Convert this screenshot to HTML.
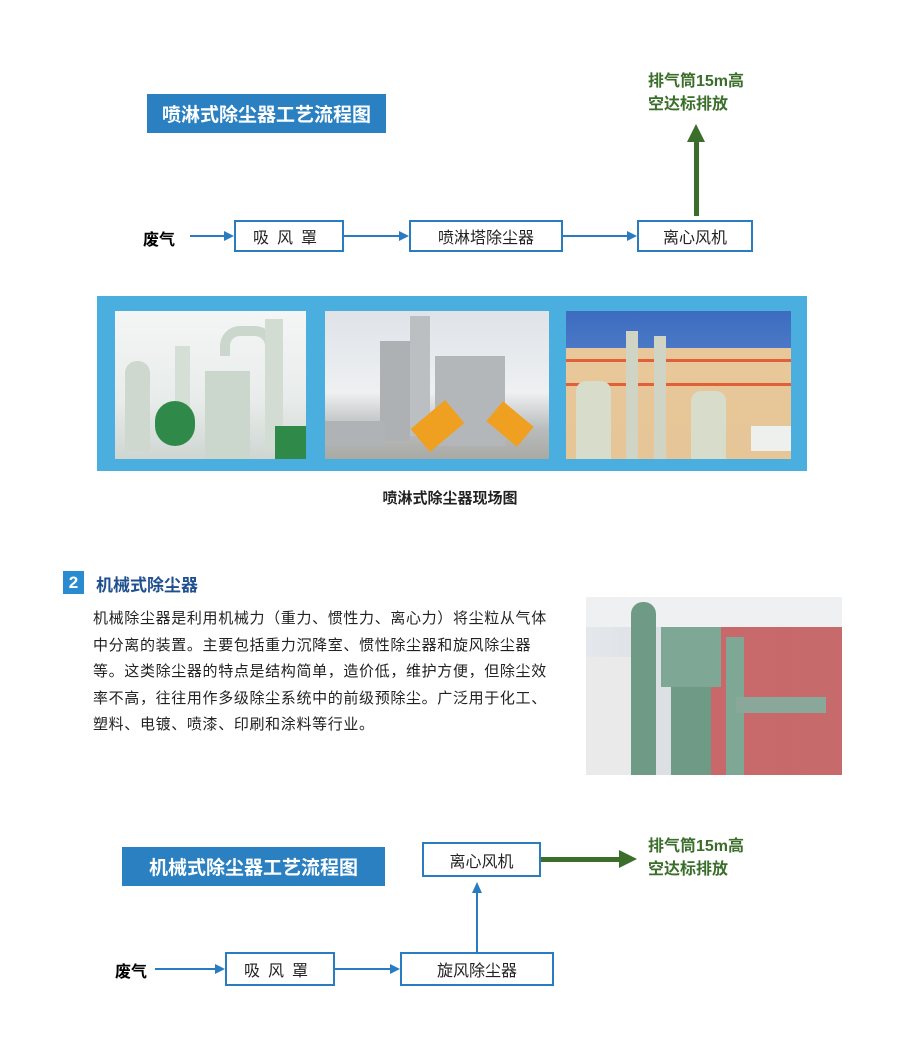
<!DOCTYPE html>
<html><head><meta charset="utf-8"><style>
body{margin:0;width:900px;height:1052px;background:#fff;position:relative;overflow:hidden;font-family:"Liberation Sans","Noto Sans CJK SC",sans-serif;}
.a{position:absolute;}
.tb{background:#2a80c0;color:#fff;font-weight:bold;font-size:19px;display:flex;align-items:center;justify-content:center;}
.bx{border:2px solid #2a7cc0;background:#fff;color:#222;font-size:16px;display:flex;align-items:center;justify-content:center;box-sizing:border-box;}
.ln{background:#2a7cc0;height:2px;}
.g{color:#3a6e2a;font-weight:bold;font-size:16px;line-height:23px;}
.p{font-size:15px;color:#222;line-height:26.6px;letter-spacing:0.65px;white-space:nowrap;}
</style></head><body>
<div class="a tb" style="left:147px;top:94px;width:239px;height:39px;">喷淋式除尘器工艺流程图</div>
<div class="a g" style="left:648px;top:70px;">排气筒15m高<br>空达标排放</div>
<div class="a" style="left:694px;top:140px;width:5px;height:76px;background:#3a6e2a;"></div>
<div class="a" style="left:687px;top:124px;width:0;height:0;border-left:9.5px solid transparent;border-right:9.5px solid transparent;border-bottom:18px solid #3a6e2a;"></div>
<div class="a" style="left:143px;top:226px;font-weight:bold;font-size:16px;">废气</div>
<div class="a ln" style="left:190px;top:235px;width:36px;"></div>
<div class="a" style="left:224px;top:231px;border-left:10px solid #2a7cc0;border-top:5px solid transparent;border-bottom:5px solid transparent;"></div>
<div class="a bx" style="left:234px;top:220px;width:110px;height:32px;letter-spacing:8px;">吸风罩</div>
<div class="a ln" style="left:344px;top:235px;width:56px;"></div>
<div class="a" style="left:399px;top:231px;border-left:10px solid #2a7cc0;border-top:5px solid transparent;border-bottom:5px solid transparent;"></div>
<div class="a bx" style="left:409px;top:220px;width:154px;height:32px;">喷淋塔除尘器</div>
<div class="a ln" style="left:563px;top:235px;width:65px;"></div>
<div class="a" style="left:627px;top:231px;border-left:10px solid #2a7cc0;border-top:5px solid transparent;border-bottom:5px solid transparent;"></div>
<div class="a bx" style="left:637px;top:220px;width:116px;height:32px;">离心风机</div>

<div class="a" style="left:97px;top:296px;width:710px;height:175px;background:#4aaede;"></div>
<div class="a" style="left:115px;top:311px;width:191px;height:148px;background:linear-gradient(#f4f6f6 0%,#e8ecea 60%,#cfd6d2 100%);overflow:hidden;">
 <div class="a" style="left:10px;top:50px;width:25px;height:90px;background:#cfd8cf;border-radius:12px 12px 0 0;"></div>
 <div class="a" style="left:60px;top:35px;width:15px;height:90px;background:#d6dfd6;"></div>
 <div class="a" style="left:40px;top:90px;width:40px;height:45px;background:#2f8a4a;border-radius:20px;"></div>
 <div class="a" style="left:90px;top:60px;width:45px;height:90px;background:#cbd6cc;"></div>
 <div class="a" style="left:105px;top:15px;width:35px;height:20px;border:10px solid #cbd6cc;border-bottom:none;border-radius:20px 20px 0 0;"></div>
 <div class="a" style="left:150px;top:8px;width:18px;height:130px;background:#d2dcd2;"></div>
 <div class="a" style="left:160px;top:115px;width:31px;height:33px;background:#2f8a4a;"></div>
</div>
<div class="a" style="left:325px;top:311px;width:224px;height:148px;background:linear-gradient(#dfe3e8 0%,#eef0f2 55%,#b9bcbc 80%,#a9a9a4 100%);overflow:hidden;">
 <div class="a" style="left:55px;top:30px;width:30px;height:100px;background:#aeb1b3;"></div>
 <div class="a" style="left:85px;top:5px;width:20px;height:120px;background:#bcbfc1;"></div>
 <div class="a" style="left:110px;top:45px;width:70px;height:90px;background:#b4b7b9;"></div>
 <div class="a" style="left:0;top:110px;width:60px;height:25px;background:#b0b3b5;"></div>
 <div class="a" style="left:90px;top:100px;width:45px;height:30px;background:#f0a020;transform:rotate(-40deg);"></div>
 <div class="a" style="left:165px;top:100px;width:40px;height:26px;background:#f0a020;transform:rotate(40deg);"></div>
</div>
<div class="a" style="left:566px;top:311px;width:225px;height:148px;background:linear-gradient(#3d6cc0 0%,#4a78c6 25%,#e8c89a 25%,#e6c597 100%);overflow:hidden;">
 <div class="a" style="left:0;top:48px;width:225px;height:3px;background:#e0603a;"></div>
 <div class="a" style="left:0;top:72px;width:225px;height:3px;background:#e0603a;"></div>
 <div class="a" style="left:10px;top:70px;width:35px;height:78px;background:#d8dccb;border-radius:10px 10px 0 0;"></div>
 <div class="a" style="left:60px;top:20px;width:12px;height:128px;background:#d0d4c4;"></div>
 <div class="a" style="left:88px;top:25px;width:12px;height:123px;background:#d0d4c4;"></div>
 <div class="a" style="left:125px;top:80px;width:35px;height:68px;background:#d8dccb;border-radius:10px 10px 0 0;"></div>
 <div class="a" style="left:185px;top:115px;width:40px;height:25px;background:#eef0ee;"></div>
</div>
<div class="a" style="left:0;top:487px;width:900px;text-align:center;font-weight:bold;font-size:15px;color:#222;">喷淋式除尘器现场图</div>

<div class="a" style="left:63px;top:571px;width:21px;height:23px;background:#2a8cd0;color:#fff;font-weight:bold;font-size:17px;text-align:center;line-height:23px;">2</div>
<div class="a" style="left:96px;top:571px;color:#1f4f8f;font-weight:bold;font-size:17px;">机械式除尘器</div>
<div class="a p" style="left:93px;top:606px;">机械除尘器是利用机械力（重力、惯性力、离心力）将尘粒从气体<br>中分离的装置。主要包括重力沉降室、惯性除尘器和旋风除尘器<br>等。这类除尘器的特点是结构简单，造价低，维护方便，但除尘效<br>率不高，往往用作多级除尘系统中的前级预除尘。广泛用于化工、<br>塑料、电镀、喷漆、印刷和涂料等行业。</div>
<div class="a" style="left:586px;top:597px;width:256px;height:178px;background:linear-gradient(90deg,#e4e8ec 0%,#d8dcdf 45%,#c9686a 45%,#c66a6c 100%);overflow:hidden;">
 <div class="a" style="left:0;top:0;width:256px;height:30px;background:#eef0f2;"></div>
 <div class="a" style="left:45px;top:5px;width:25px;height:173px;background:#6f9a85;border-radius:12px 12px 0 0;"></div>
 <div class="a" style="left:75px;top:30px;width:60px;height:60px;background:#7ea796;"></div>
 <div class="a" style="left:85px;top:90px;width:40px;height:88px;background:#6f9a85;"></div>
 <div class="a" style="left:140px;top:40px;width:18px;height:138px;background:#7ea796;"></div>
 <div class="a" style="left:150px;top:100px;width:90px;height:16px;background:#8aa89a;"></div>
 <div class="a" style="left:0;top:60px;width:45px;height:118px;background:#eaeaea;"></div>
</div>

<div class="a tb" style="left:122px;top:847px;width:263px;height:39px;">机械式除尘器工艺流程图</div>
<div class="a bx" style="left:422px;top:842px;width:119px;height:35px;">离心风机</div>
<div class="a" style="left:541px;top:857px;width:80px;height:5px;background:#3a6e2a;"></div>
<div class="a" style="left:619px;top:850px;border-left:18px solid #3a6e2a;border-top:9.5px solid transparent;border-bottom:9.5px solid transparent;"></div>
<div class="a g" style="left:648px;top:835px;">排气筒15m高<br>空达标排放</div>
<div class="a" style="left:476px;top:892px;width:2px;height:60px;background:#2a7cc0;"></div>
<div class="a" style="left:472px;top:882px;border-bottom:11px solid #2a7cc0;border-left:5px solid transparent;border-right:5px solid transparent;"></div>
<div class="a" style="left:115px;top:958px;font-weight:bold;font-size:16px;">废气</div>
<div class="a ln" style="left:155px;top:968px;width:62px;"></div>
<div class="a" style="left:215px;top:964px;border-left:10px solid #2a7cc0;border-top:5px solid transparent;border-bottom:5px solid transparent;"></div>
<div class="a bx" style="left:225px;top:952px;width:110px;height:34px;letter-spacing:8px;">吸风罩</div>
<div class="a ln" style="left:335px;top:968px;width:56px;"></div>
<div class="a" style="left:390px;top:964px;border-left:10px solid #2a7cc0;border-top:5px solid transparent;border-bottom:5px solid transparent;"></div>
<div class="a bx" style="left:400px;top:952px;width:154px;height:34px;">旋风除尘器</div>
</body></html>
